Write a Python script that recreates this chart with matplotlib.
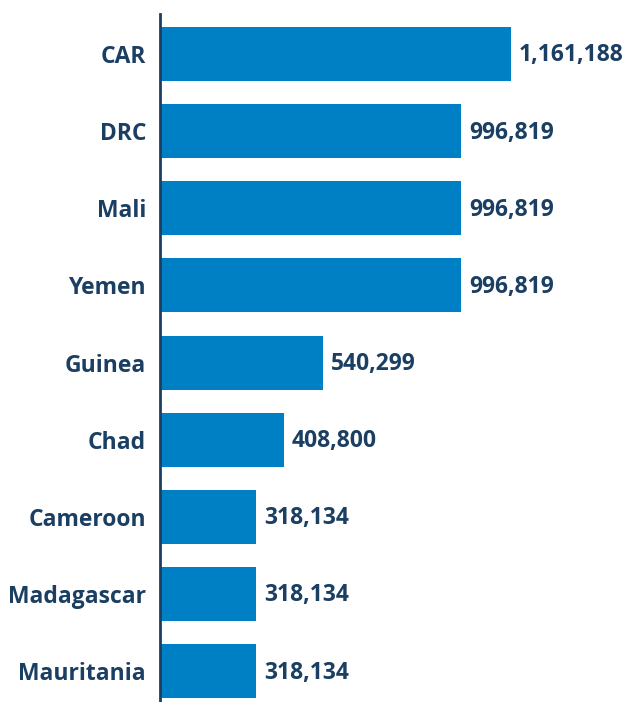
import matplotlib.pyplot as plt

countries = ["CAR", "DRC", "Mali", "Yemen", "Guinea", "Chad", "Cameroon", "Madagascar", "Mauritania"]
values = [1161188, 996819, 996819, 996819, 540299, 408800, 318134, 318134, 318134]

bar_color = "#0080c4"
text_color = "#1b3f63"

fig = plt.figure(figsize=(6.24, 7.02), dpi=100)
ax = fig.add_axes([160 / 624, 0, 464 / 624, 688 / 702])

y = list(range(len(countries)))
ax.barh(y, values, height=0.70, color=bar_color)

for yi, v in zip(y, values):
    ax.annotate(f"{v:,}", (v, yi), xytext=(5.5, -1), textcoords="offset points",
                va="center", ha="left", fontsize=16.5, fontweight="bold",
                color=text_color, family="Open Sans")

ax.set_xlim(0, 1161188 * 464 / 351)
ax.set_ylim(8.40, -0.519)
ax.set_yticks(y)
ax.set_yticklabels(countries, fontsize=16.5, fontweight="bold", color=text_color, family="Open Sans")
for lbl in ax.get_yticklabels():
    lbl.set_va("center_baseline")
ax.tick_params(axis="y", length=0, pad=10)
ax.set_xticks([])

for s in ["top", "right", "bottom"]:
    ax.spines[s].set_visible(False)
ax.spines["left"].set_color(text_color)
ax.spines["left"].set_linewidth(2)

fig.savefig("out.png", dpi=100)
